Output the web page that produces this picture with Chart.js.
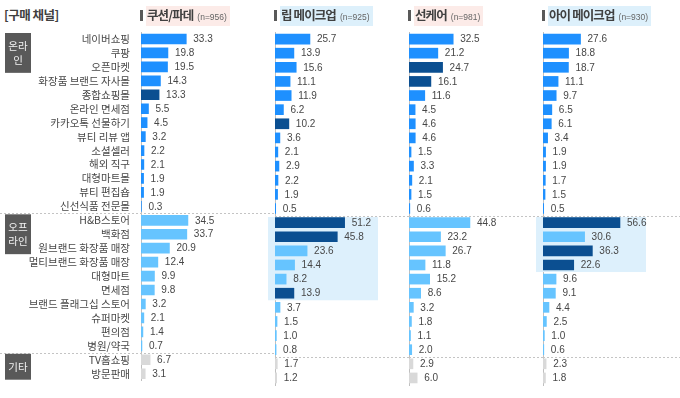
<!DOCTYPE html>
<html>
<head>
<meta charset="utf-8">
<script src="https://cdn.jsdelivr.net/npm/chart.js@4.4.1/dist/chart.umd.min.js"></script>
<style>
  body { margin: 0; background: #fff; }
  #wrap { position: relative; width: 680px; height: 398px; overflow: hidden; font-family: "Noto Sans CJK KR", sans-serif; }
  canvas { position: absolute; top: 0; }
  .title { position: absolute; left: 4px; top: 5px; font-size: 12.5px; font-weight: bold; color: #404040; letter-spacing: -0.5px; }
  .hd { position: absolute; top: 7px; height: 17px; display: flex; align-items: center; }
  .hd .mk { width: 3px; height: 11px; background: #595959; margin-right: 3px; }
  .hd .tt { font-size: 12.5px; font-weight: bold; color: #404040; letter-spacing: -0.9px; padding: 0 3px 0 1px; line-height: 17px; }
  .hd .tt small { font-family: "Liberation Sans", Arial, sans-serif; font-weight: normal; font-size: 8.5px; color: #666; letter-spacing: 0; margin-left: 4px; }
</style>
</head>
<body>
<div id="wrap">
  <div class="title">[구매 채널]</div>
</div>
<script>
// 행 목록 (온라인 13개, 오프라인 10개, 기타 2개)
const categories = [
  "네이버쇼핑", "쿠팡", "오픈마켓", "화장품 브랜드 자사몰", "종합쇼핑몰", "온라인 면세점",
  "카카오톡 선물하기", "뷰티 리뷰 앱", "소셜셀러", "해외 직구", "대형마트몰", "뷰티 편집숍", "신선식품 전문몰",
  "H&B스토어", "백화점", "원브랜드 화장품 매장", "멀티브랜드 화장품 매장", "대형마트", "면세점",
  "브랜드 플래그십 스토어", "슈퍼마켓", "편의점", "병원/약국",
  "TV홈쇼핑", "방문판매"
];
const groups = [
  { name: ["온라", "인"], from: 0, to: 12 },
  { name: ["오프", "라인"], from: 13, to: 22 },
  { name: ["기타"], from: 23, to: 24 }
];

const panelTitles = ["쿠션/파데", "립 메이크업", "선케어", "아이 메이크업"];
const panelN = [956, 925, 981, 930];

const cushion = [33.3, 19.8, 19.5, 14.3, 13.3, 5.5, 4.5, 3.2, 2.2, 2.1, 1.9, 1.9, 0.3,
  34.5, 33.7, 20.9, 12.4, 9.9, 9.8, 3.2, 2.1, 1.4, 0.7, 6.7, 3.1];
const lip = [25.7, 13.9, 15.6, 11.1, 11.9, 6.2, 10.2, 3.6, 2.1, 2.9, 2.2, 1.9, 0.5,
  51.2, 45.8, 23.6, 14.4, 8.2, 13.9, 3.7, 1.5, 1.0, 0.8, 1.7, 1.2];
const suncare = [32.5, 21.2, 24.7, 16.1, 11.6, 4.5, 4.6, 4.6, 1.5, 3.3, 2.1, 1.5, 0.6,
  44.8, 23.2, 26.7, 11.8, 15.2, 8.6, 3.2, 1.8, 1.1, 2.0, 2.9, 6.0];
const eye = [27.6, 18.8, 18.7, 11.1, 9.7, 6.5, 6.1, 3.4, 1.9, 1.9, 1.7, 1.5, 0.5,
  56.6, 30.6, 36.3, 22.6, 9.6, 9.1, 4.4, 2.5, 1.0, 0.6, 2.3, 1.8];
const panelValues = [cushion, lip, suncare, eye];

// 강조(진한 색) 막대 행 번호
const darkRows = [[4], [6, 13, 14, 18], [2, 3], [13, 15, 16]];
// 배경 강조 구간 (시작 행, 끝 행)
const highlightRows = [null, [13, 18], null, [13, 16]];

const COL_ON = "#1E90FF", COL_OFF = "#66C4FF", COL_ETC = "#D9D9D9", COL_DARK = "#0B4F91";
const pxPerUnit = 1.36;
const zeros = [141, 275, 409, 543];
const headerBg = ["#FCEBE8", "#DDF0FB", "#FCEBE8", "#DDF0FB"];

const wrap = document.getElementById("wrap");

function barColor(panel, i) {
  if (darkRows[panel].includes(i)) return COL_DARK;
  if (i <= 12) return COL_ON;
  if (i <= 22) return COL_OFF;
  return COL_ETC;
}

// 값 라벨
const valueLabels = {
  id: "valueLabels",
  afterDatasetsDraw(chart) {
    const ctx = chart.ctx;
    const meta = chart.getDatasetMeta(0);
    ctx.save();
    ctx.font = "10px 'Liberation Sans', Arial, sans-serif";
    ctx.fillStyle = "#474747";
    ctx.textBaseline = "middle";
    ctx.textAlign = "left";
    meta.data.forEach((bar, i) => {
      ctx.fillText(chart.data.datasets[0].data[i].toFixed(1), bar.x + 7, bar.y + 0.5);
    });
    ctx.restore();
  }
};

// 배경 강조 + 점선 구분선 + 그룹 박스
const decor = {
  id: "decor",
  beforeDatasetsDraw(chart, args, opts) {
    const ctx = chart.ctx;
    const y = chart.scales.y;
    const half = (y.getPixelForValue(1) - y.getPixelForValue(0)) / 2;
    const area = chart.chartArea;
    ctx.save();
    if (opts.highlight) {
      const [a, b] = opts.highlight;
      ctx.fillStyle = "#DDF0FC";
      const top = y.getPixelForValue(a) - half + 1.5;
      ctx.fillRect(area.left - 7, top, 110, y.getPixelForValue(b) + half - top);
    }
    // 점선
    ctx.strokeStyle = "#C4C4C4";
    ctx.lineWidth = 1;
    ctx.setLineDash([2, 2]);
    [12, 22].forEach(r => {
      const yy = Math.round(y.getPixelForValue(r) + half) + 0.5;
      ctx.beginPath();
      ctx.moveTo(opts.lineFrom, yy);
      ctx.lineTo(chart.width, yy);
      ctx.stroke();
    });
    ctx.setLineDash([]);
    // 그룹 박스 (첫 패널만)
    if (opts.groups) {
      groups.forEach(g => {
        const end = Math.min(g.from + 2, g.to);
        const top = y.getPixelForValue(g.from) - half + 1;
        const bot = y.getPixelForValue(end) + half - 1;
        ctx.fillStyle = "#595959";
        ctx.fillRect(5, top, 26, bot - top);
        ctx.fillStyle = "#f2f2f2";
        ctx.font = "10.5px 'Noto Sans CJK KR', sans-serif";
        ctx.textAlign = "center";
        ctx.textBaseline = "middle";
        const cy = (top + bot) / 2;
        if (g.name.length === 1) {
          ctx.fillText(g.name[0], 18, cy);
        } else {
          ctx.fillText(g.name[0], 18, cy - 7);
          ctx.fillText(g.name[1], 18, cy + 7);
        }
      });
    }
    ctx.restore();
  }
};

function makePanel(p) {
  const first = p === 0;
  const left = first ? 0 : zeros[p] - 8;
  const right = p === 3 ? 680 : zeros[p + 1];
  const width = right - left;
  const canvas = document.createElement("canvas");
  canvas.width = width;
  canvas.height = 398;
  canvas.style.left = left + "px";
  canvas.style.width = width + "px";
  canvas.style.height = "398px";
  wrap.appendChild(canvas);

  // 패널 제목
  const hd = document.createElement("div");
  hd.className = "hd";
  hd.style.left = (zeros[p] - 1) + "px";
  hd.innerHTML = '<span class="mk"></span><span class="tt" style="background:' + headerBg[p] + '">' +
    panelTitles[p] + '<small>(n=' + panelN[p] + ')</small></span>';
  wrap.appendChild(hd);

  new Chart(canvas, {
    type: "bar",
    data: {
      labels: categories,
      datasets: [{
        data: panelValues[p],
        backgroundColor: panelValues[p].map((v, i) => barColor(p, i)),
        barThickness: 10,
        borderWidth: 0
      }]
    },
    options: {
      indexAxis: "y",
      responsive: false,
      animation: false,
      devicePixelRatio: 1,
      layout: { padding: { top: 32, bottom: 13, left: first ? 0 : 8, right: 0 } },
      plugins: {
        legend: { display: false },
        tooltip: { enabled: false },
        decor: { highlight: highlightRows[p], lineFrom: first ? 0 : 8, groups: first }
      },
      scales: {
        x: { display: false, min: 0, max: (right - zeros[p]) / pxPerUnit },
        y: {
          grid: { display: false, drawTicks: false },
          border: { display: true, color: "#BFBFBF", width: 1 },
          ticks: {
            display: first,
            autoSkip: false,
            padding: 11,
            color: "#474747",
            font: { family: "'Noto Sans CJK KR', sans-serif", size: 10.5 }
          },
          afterFit: s => { s.width = first ? 141 : 0; }
        }
      }
    },
    plugins: [decor, valueLabels]
  });
}

for (let p = 0; p < 4; p++) makePanel(p);
</script>
</body>
</html>
